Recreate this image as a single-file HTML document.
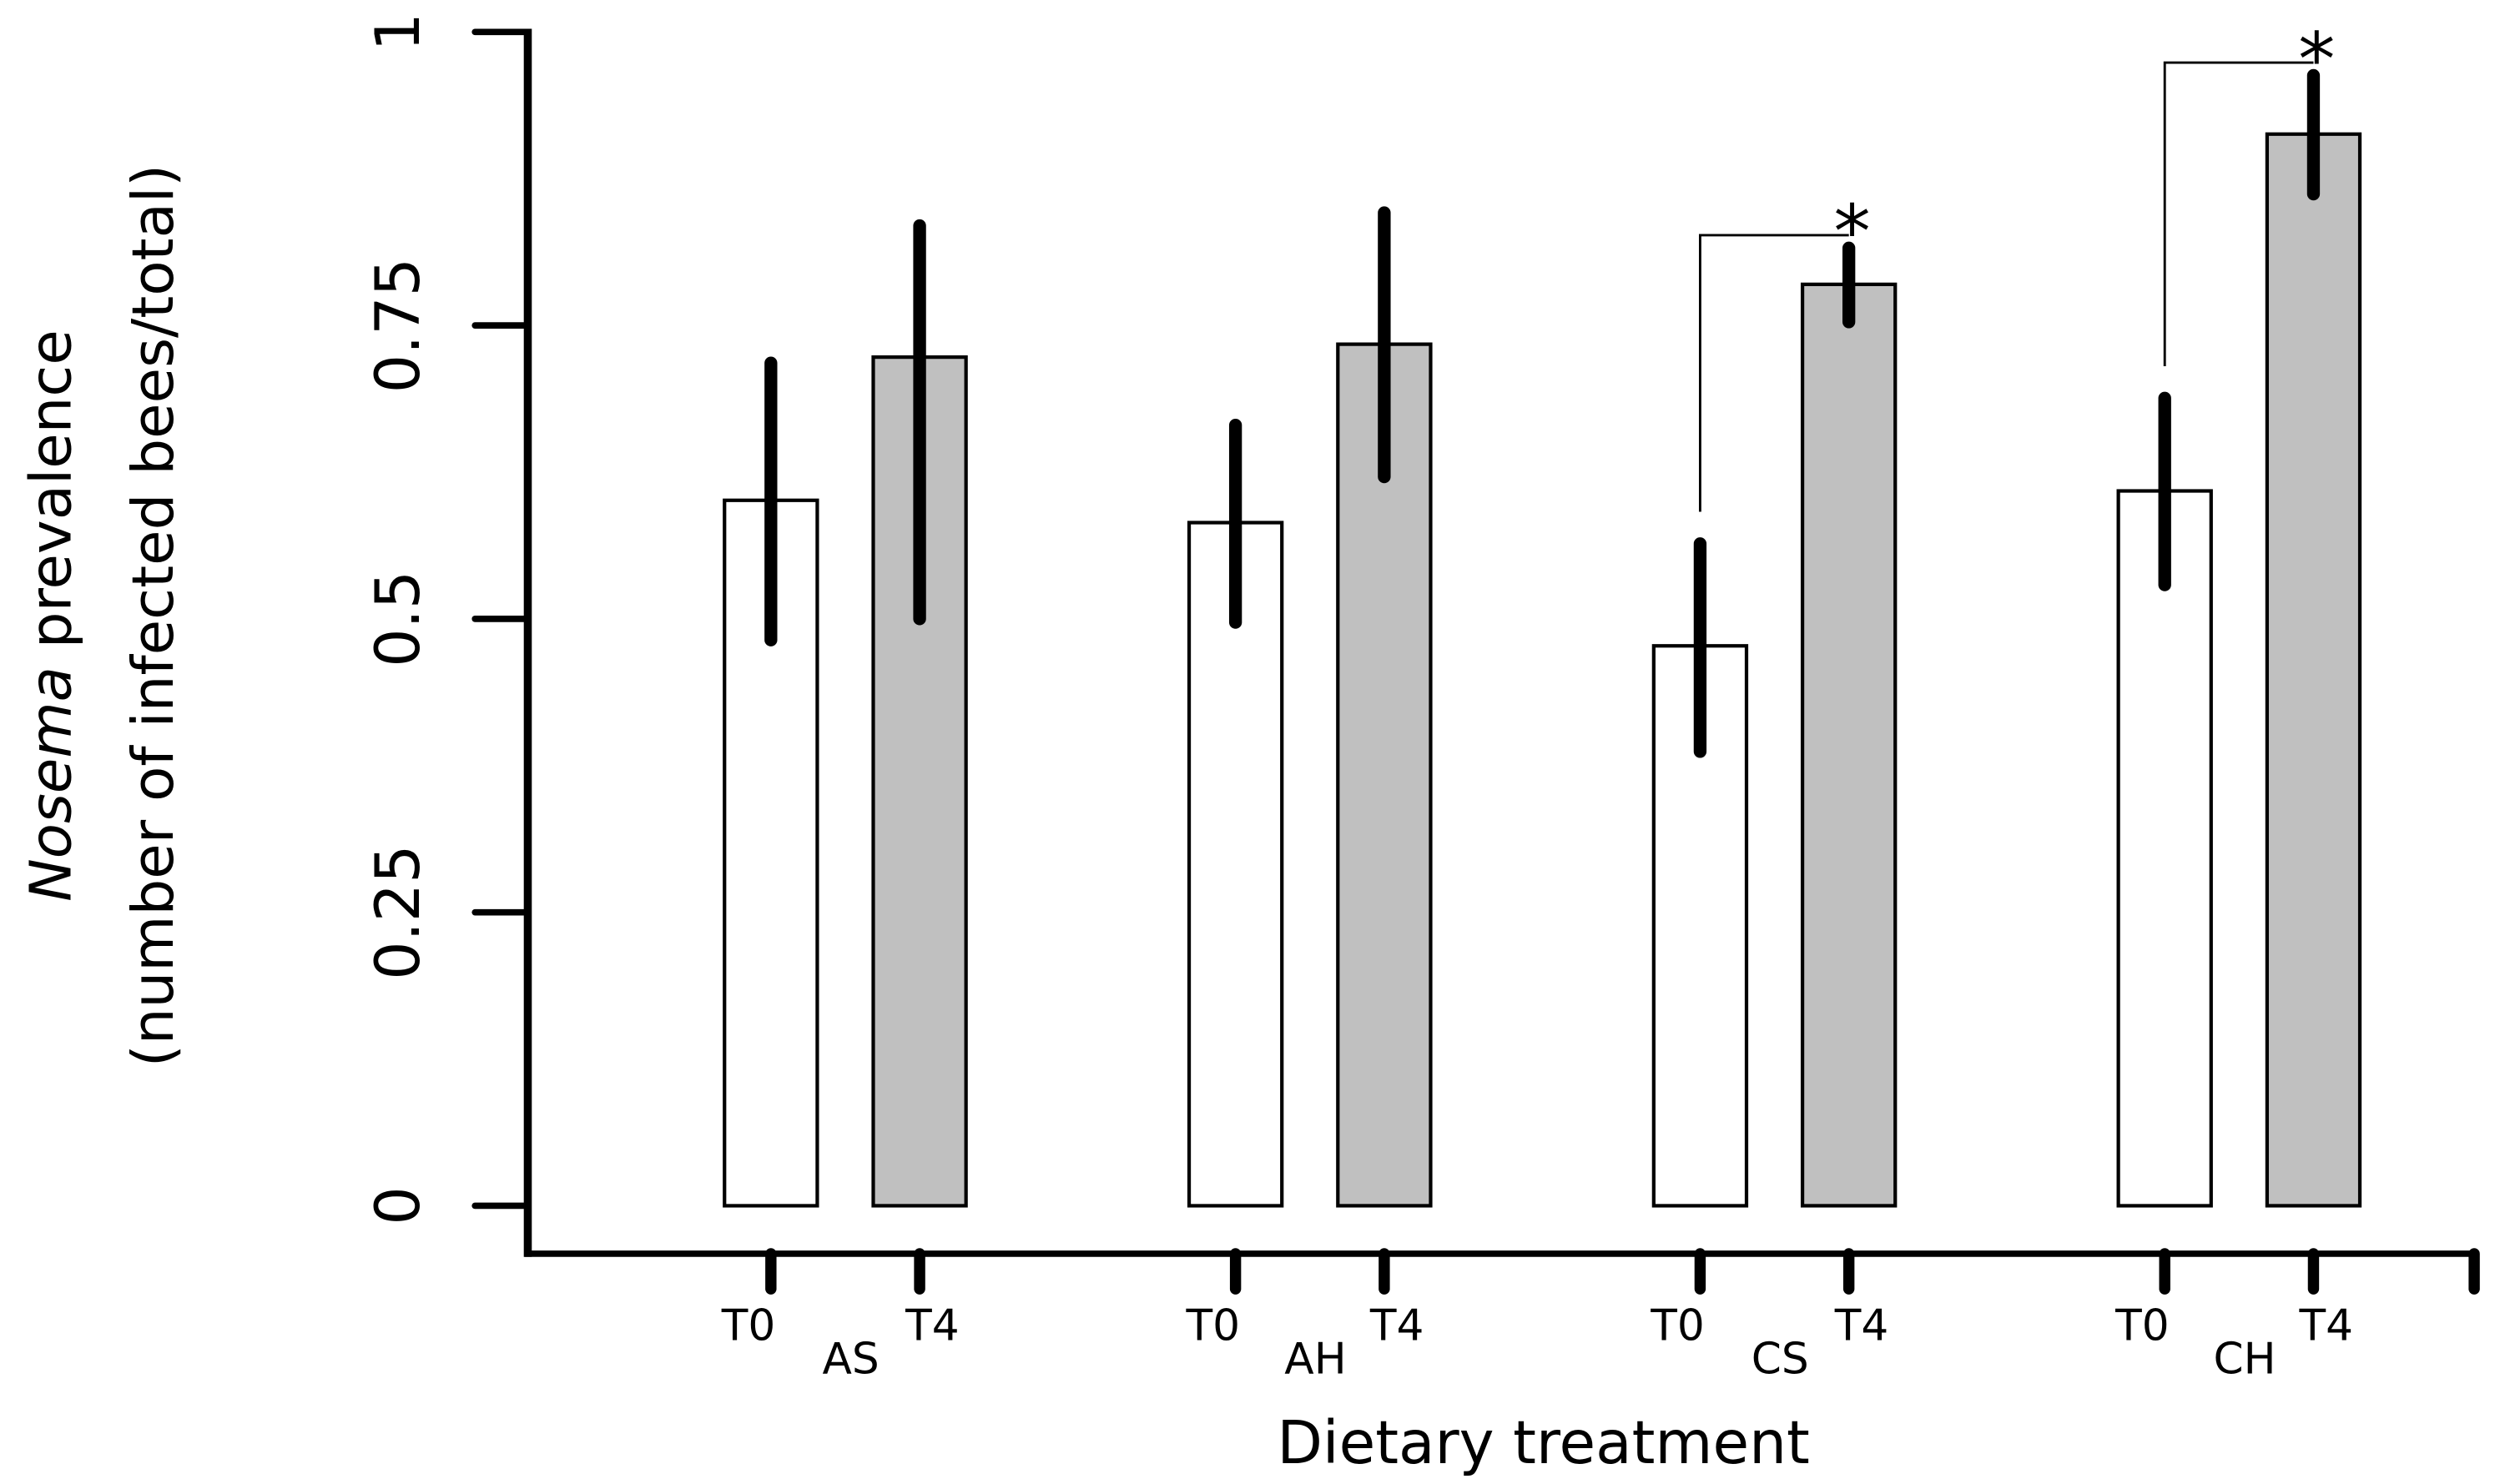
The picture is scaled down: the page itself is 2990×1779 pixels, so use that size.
<!DOCTYPE html>
<html><head><meta charset="utf-8"><style>html,body{margin:0;padding:0;background:#fff}svg{display:block}</style></head>
<body>
<svg id="chart" width="2990" height="1779" viewBox="0 0 1560 928" preserveAspectRatio="none" xmlns="http://www.w3.org/2000/svg" font-family="DejaVu Sans, Liberation Sans, sans-serif">
<g id="axes"></g>
<g id="marks"></g>
<text x="965" y="915" font-size="37" text-anchor="middle">Dietary treatment</text>
<g transform="translate(0,385) rotate(-90)">
<text x="0" y="44" font-size="36" text-anchor="middle"><tspan font-style="italic">Nosema</tspan> prevalence</text>
<text x="0" y="108" font-size="36" text-anchor="middle">(number of infected bees/total)</text>
</g>
</svg>
<script>
const groups = ['AS','AH','CS','CH'];
const t0Values = [0.601,0.582,0.477,0.609];
const t0Upper = [0.718,0.665,0.564,0.688];
const t0Lower = [0.482,0.497,0.387,0.529];
const t4Values = [0.723,0.734,0.785,0.913];
const t4Upper = [0.835,0.846,0.816,0.963];
const t4Lower = [0.500,0.621,0.753,0.862];
const yTicks = [0,0.25,0.5,0.75,1];
const yTickLabels = ['0','0.25','0.5','0.75','1'];
const significant = [false,false,true,true];

const NS='http://www.w3.org/2000/svg';
const y = v => 754 - v*734;
const xc = (g,t) => 482 + g*290.5 + t*93;
function mk(tag, attrs, parent){const e=document.createElementNS(NS,tag);for(const k in attrs)e.setAttribute(k,attrs[k]);parent.appendChild(e);return e;}
const axes=document.getElementById('axes'), marks=document.getElementById('marks');

let e=mk('line',{x1:330,y1:18,x2:330,y2:786,stroke:'#000','stroke-width':5},axes);


e=mk('line',{x1:328,y1:784,x2:1548,y2:784,stroke:'#000','stroke-width':4},axes);


e=mk('line',{x1:1547,y1:784,x2:1547,y2:806,stroke:'#000','stroke-width':7,'stroke-linecap':'round'},axes);


yTicks.forEach((v,i)=>{
  const t=mk('line',{x1:297,y1:y(v),x2:330,y2:y(v),stroke:'#000','stroke-width':4,'stroke-linecap':'round'},axes);
  
  
  const l=mk('text',{x:0,y:0,'font-size':38,'text-anchor':'middle',transform:`translate(262,${y(v)}) rotate(-90)`},axes);
  l.textContent=yTickLabels[i];
  
  
});
groups.forEach((g,i)=>{
  [[t0Values,t0Upper,t0Lower,'#fff','T0'],[t4Values,t4Upper,t4Lower,'#c0c0c0','T4']].forEach((s,t)=>{
    const cx=xc(i,t);
    const b=mk('rect',{x:cx-29,y:y(s[0][i]),width:58,height:y(0)-y(s[0][i]),fill:s[3],stroke:'#000','stroke-width':2.2},marks);
    
    
    const eb=mk('line',{x1:cx,y1:y(s[1][i]),x2:cx,y2:y(s[2][i]),stroke:'#000','stroke-width':8,'stroke-linecap':'round'},marks);
    
    
    const tk=mk('line',{x1:cx,y1:784,x2:cx,y2:806,stroke:'#000','stroke-width':7,'stroke-linecap':'round'},axes);
    
    
    const tl=mk('text',{x:cx+(t?8:-14),y:838,'font-size':27,'text-anchor':'middle'},axes);
    tl.textContent=s[4];
    
    
  });
  const gl=mk('text',{x:xc(i,0)+50,y:859,'font-size':27,'text-anchor':'middle'},axes);
  gl.textContent=g;
  
  
  if(significant[i]){
    const x0=xc(i,0), x1=xc(i,1);
    const top=y(t4Upper[i])-8;
    const p=mk('polyline',{points:`${x0},${y(t0Upper[i])-20} ${x0},${top} ${x1},${top}`,fill:'none',stroke:'#000','stroke-width':1.5},marks);
    
    
    const a=mk('text',{x:x1+2,y:top+14,'font-size':46,'text-anchor':'middle'},marks);
    a.textContent='*';
    
    
  }
});
</script>
</body></html>
